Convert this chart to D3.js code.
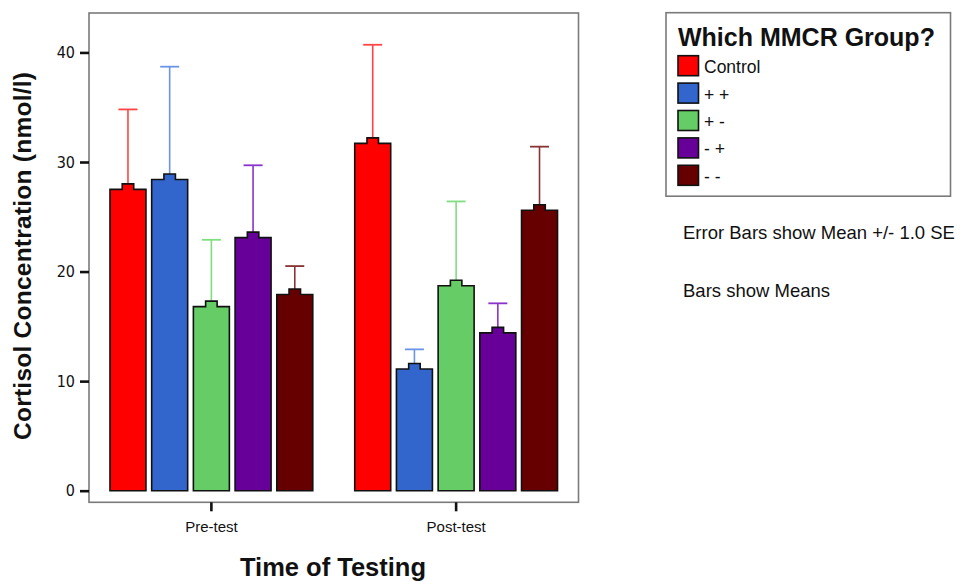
<!DOCTYPE html>
<html>
<head>
<meta charset="utf-8">
<script src="https://cdn.jsdelivr.net/npm/d3@7"></script>
<style>
  body { margin: 0; background: #fff; }
  svg { display: block; }
</style>
</head>
<body>
<svg id="chart" width="960" height="582"></svg>
<script>
// ---- data ----
const times = ["Pre-test", "Post-test"];
const groups = ["Control", "+ +", "+ -", "- +", "- -"];
const preMeans  = [27.5, 28.4, 16.8, 23.1, 17.9];
const preSE     = [7.3, 10.3, 6.1, 6.6, 2.6];
const postMeans = [31.7, 11.1, 18.7, 14.4, 25.6];
const postSE    = [9.0, 1.8, 7.7, 2.7, 5.8];
const yTicks = [0, 10, 20, 30, 40];
const fillColors  = ["#ff0000", "#3366cc", "#66cc66", "#660099", "#660000"];
const errorColors = ["#ff4444", "#6b95e6", "#80dd80", "#8a33cc", "#8a3333"];
const notes = ["Error Bars show Mean +/- 1.0 SE", "Bars show Means"];

const means = [preMeans, postMeans];
const ses = [preSE, postSE];
const rows = [];
times.forEach((t, i) => groups.forEach((g, j) => rows.push({time: t, group: g, mean: means[i][j], se: ses[i][j], gi: j})));

const svg = d3.select("#chart");
const plot = {left: 89, right: 578.5, top: 13, bottom: 502.3};

const x0 = d3.scaleBand().domain(times).range([plot.left, plot.right]).paddingInner(0).paddingOuter(0);
const x1 = d3.scaleBand().domain(groups).range([0, x0.bandwidth()]).paddingInner(0.137).paddingOuter(0.503);
const y = d3.scaleLinear().domain([-1.06, 43.6]).range([plot.bottom, plot.top]);
const color = d3.scaleOrdinal().domain(groups).range(fillColors);
const ecolor = d3.scaleOrdinal().domain(groups).range(errorColors);

// frame
svg.append("rect")
  .attr("x", plot.left).attr("y", plot.top)
  .attr("width", plot.right - plot.left).attr("height", plot.bottom - plot.top)
  .attr("fill", "none").attr("stroke", "#7a7a7a").attr("stroke-width", 1.6);

// y axis
const yAxis = svg.append("g").attr("transform", `translate(${plot.left},0)`)
  .call(d3.axisLeft(y).tickValues(yTicks).tickSize(9).tickPadding(5).tickFormat(d3.format("d")));
yAxis.select(".domain").remove();
yAxis.selectAll(".tick line").attr("stroke", "#111").attr("stroke-width", 2.6);
yAxis.selectAll(".tick text").attr("fill", "#111")
  .style("font-family", "'Liberation Sans Narrow', 'DejaVu Sans Condensed', 'Liberation Sans', sans-serif")
  .style("font-size", "16px");

// x axis
const xAxis = svg.append("g").attr("transform", `translate(0,${plot.bottom})`)
  .call(d3.axisBottom(x0).tickSize(9).tickPadding(10));
xAxis.select(".domain").remove();
xAxis.selectAll(".tick line").attr("stroke", "#111").attr("stroke-width", 2.6);
xAxis.selectAll(".tick text").attr("fill", "#111")
  .style("font-family", "'Liberation Sans', Arial, sans-serif")
  .style("font-size", "15px");

// bars
const bw = x1.bandwidth();
const bumpW = 11.5, bumpH = 5.5, capW = 19;
const barG = svg.append("g");
rows.forEach(d => {
  const left = x0(d.time) + x1(d.group);
  const cx = left + bw / 2;
  const top = y(d.mean);
  const base = y(0);
  // error bar (upper)
  const eTop = y(d.mean + d.se);
  barG.append("line").attr("x1", cx).attr("x2", cx).attr("y1", top - bumpH).attr("y2", eTop)
    .attr("stroke", ecolor(d.group)).attr("stroke-width", 1.6);
  barG.append("line").attr("x1", cx - capW / 2).attr("x2", cx + capW / 2).attr("y1", eTop).attr("y2", eTop)
    .attr("stroke", ecolor(d.group)).attr("stroke-width", 1.8);
  // bar outline with bump
  const p = d3.path();
  p.moveTo(left, base);
  p.lineTo(left, top);
  p.lineTo(cx - bumpW / 2, top);
  p.lineTo(cx - bumpW / 2, top - bumpH);
  p.lineTo(cx + bumpW / 2, top - bumpH);
  p.lineTo(cx + bumpW / 2, top);
  p.lineTo(left + bw, top);
  p.lineTo(left + bw, base);
  p.closePath();
  barG.append("path").attr("d", p.toString())
    .attr("fill", color(d.group)).attr("stroke", "#111").attr("stroke-width", 1.6)
    .attr("stroke-linejoin", "miter");
});

// axis titles
svg.append("text")
  .attr("transform", `translate(31,256) rotate(-90)`)
  .attr("text-anchor", "middle")
  .attr("textLength", 368).attr("lengthAdjust", "spacing")
  .style("font-family", "'Liberation Sans', Arial, sans-serif")
  .style("font-weight", "bold").style("font-size", "24.5px").attr("fill", "#111")
  .text("Cortisol Concentration (nmol/l)");

svg.append("text")
  .attr("x", 333).attr("y", 576)
  .attr("text-anchor", "middle")
  .style("font-family", "'Liberation Sans', Arial, sans-serif")
  .style("font-weight", "bold").style("font-size", "25.5px").attr("fill", "#111")
  .text("Time of Testing");

// legend
const lg = svg.append("g");
lg.append("rect").attr("x", 666).attr("y", 12.7).attr("width", 284.5).attr("height", 183.5)
  .attr("fill", "#fff").attr("stroke", "#7a7a7a").attr("stroke-width", 1.6);
lg.append("text").attr("x", 678).attr("y", 45.5)
  .style("font-family", "'Liberation Sans', Arial, sans-serif")
  .style("font-weight", "bold").style("font-size", "25px").attr("fill", "#111")
  .text("Which MMCR Group?");
const ly = d3.scalePoint().domain(groups).range([55.7, 165.3]);
groups.forEach(g => {
  lg.append("rect").attr("x", 678).attr("y", ly(g)).attr("width", 20.5).attr("height", 20)
    .attr("fill", color(g)).attr("stroke", "#111").attr("stroke-width", 1.6);
  lg.append("text").attr("x", 704).attr("y", ly(g) + 17.5)
    .style("font-family", "'Liberation Sans', Arial, sans-serif")
    .style("font-size", "17.5px").attr("fill", "#111")
    .text(g);
});

// notes
const noteY = [239.3, 297.3];
notes.forEach((n, i) => {
  svg.append("text").attr("x", 683).attr("y", noteY[i])
    .style("font-family", "'Liberation Sans', Arial, sans-serif")
    .style("font-size", "18.5px").attr("fill", "#111")
    .text(n);
});
</script>
</body>
</html>
